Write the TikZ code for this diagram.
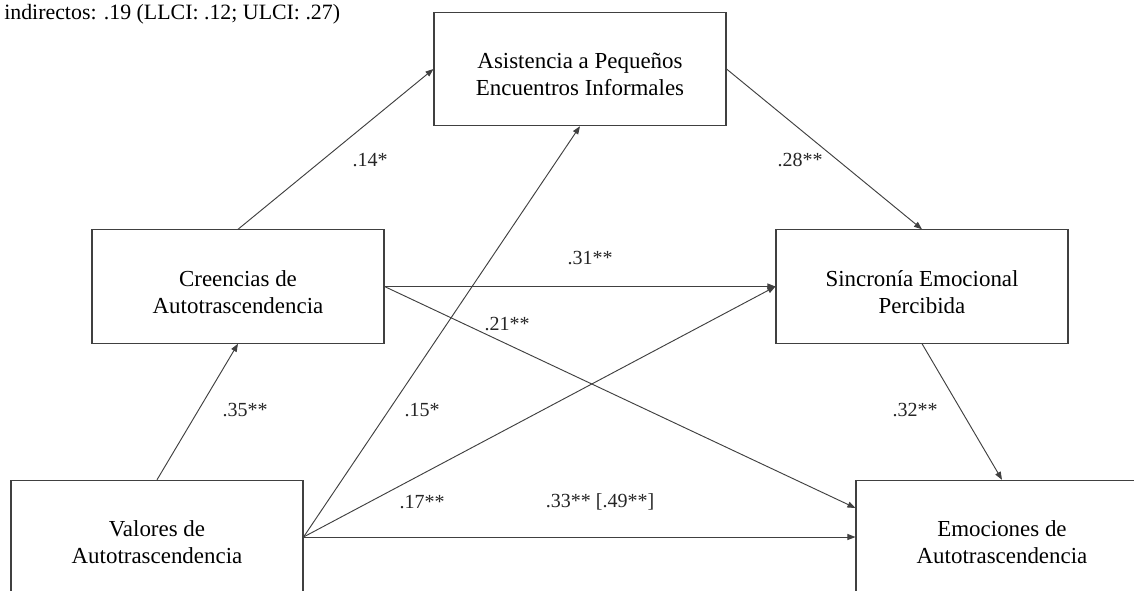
\documentclass[tikz,border=0pt]{standalone}
\usepackage{fontspec}
\setmainfont{Liberation Serif}
\usetikzlibrary{arrows.meta}
\newcommand{\boxstrut}{\rule{0pt}{20pt}}
\begin{document}
\begin{tikzpicture}[x=0.75pt,y=-0.75pt,
  box/.style={draw=black!75,line width=0.8pt,rectangle,minimum width=219pt,minimum height=85pt,inner sep=0pt,align=center,font=\fontsize{17.2}{20}\selectfont},
  conn/.style={draw=black!75,line width=0.7pt,-{Triangle[length=6pt,width=4.5pt]}},
  lab/.style={font=\fontsize{15}{17}\selectfont,inner sep=0pt,text=black!85}]
\clip (0,0) rectangle (1134,590);
\fill[white] (0,0) rectangle (1134,590);
\node[anchor=west,inner sep=0pt,font=\fontsize{16.4}{17}\selectfont] (ind) at (4,14) {indirectos: .19 (LLCI: .12; ULCI: .27)};
\node[box] (asis) at (580,69) {\boxstrut Asistencia a Pequeños\\Encuentros Informales};
\node[box] (cree) at (238,286.5) {\boxstrut Creencias de\\Autotrascendencia};
\node[box] (sinc) at (922,286.5) {\boxstrut Sincronía Emocional\\Percibida};
\node[box] (val) at (157,537) {\boxstrut Valores de\\Autotrascendencia};
\node[box] (emo) at (1002,537) {\boxstrut Emociones de\\Autotrascendencia};
\draw[conn] (cree.north) -- (asis.west);
\draw[conn] (val.north) -- (cree.south);
\draw[conn] (val.east) -- (asis.south);
\draw[conn] (val.east) -- (sinc.west);
\draw[conn] (val.east) -- (emo.west);
\draw[conn] (cree.east) -- (sinc.west);
\draw[conn] (cree.east) -- ([yshift=21.75pt]emo.west);
\draw[conn] (asis.east) -- (sinc.north);
\draw[conn] (sinc.south) -- (emo.north);
\node[lab] (l14) at (370,160) {.14*};
\node[lab] (l28) at (800,160) {.28**};
\node[lab] (l31) at (590,258) {.31**};
\node[lab] (l21) at (507,324) {.21**};
\node[lab] (l35) at (245,410) {.35**};
\node[lab] (l15) at (422,410) {.15*};
\node[lab] (l32) at (915,410) {.32**};
\node[lab] (l17) at (422,502) {.17**};
\node[lab] (l33) at (600,502) {.33** [.49**]};
\end{tikzpicture}
\end{document}
